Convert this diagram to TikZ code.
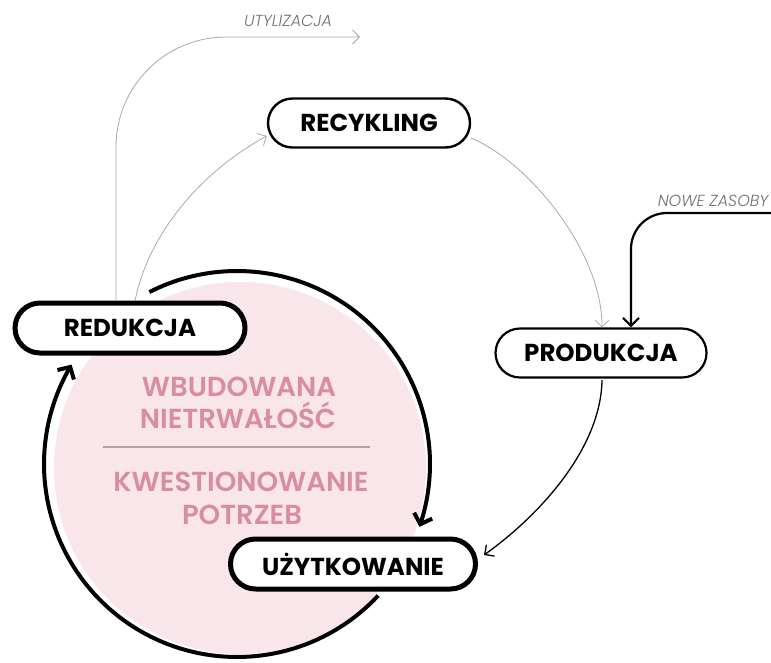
\documentclass[tikz,border=0pt]{standalone}
\usepackage{fontspec}
\setmainfont{Poppins}
\newfontfamily\semibold{Poppins SemiBold}
\newfontfamily\lightit{Poppins Light Italic}
\usetikzlibrary{arrows.meta}

\definecolor{pinkfill}{HTML}{F8E6EB}
\definecolor{pinktext}{HTML}{D98DA3}
\definecolor{rulepink}{HTML}{B89AA2}
\definecolor{thingray}{HTML}{A8A8A8}
\definecolor{labelgray}{HTML}{707070}

\tikzset{
  pill/.style={draw=black, fill=white, text=black, inner sep=0pt,
    font=\bfseries\fontsize{24.5}{24.5}\selectfont},
  heavypill/.style={pill, line width=5pt, minimum height=50pt, rounded corners=25pt},
  lightpill/.style={pill, line width=2.4pt, minimum height=49pt, rounded corners=24.5pt},
  pinklabel/.style={text=pinktext, font=\semibold\fontsize{27.5}{27.5}\selectfont},
  flowlabel/.style={text=labelgray, font=\lightit\fontsize{16}{16}\selectfont},
  grayflow/.style={draw=thingray, line width=0.8pt,
    -{Straight Barb[length=7pt,width=14pt]}},
  blackflow/.style={draw=black, line width=1.3pt,
    -{Straight Barb[length=7pt,width=14pt]}},
  supplyflow/.style={draw=black, line width=2.2pt,
    -{Straight Barb[length=8pt,width=16pt]}},
  loop/.style={draw=black, line width=4pt,
    -{Straight Barb[length=9pt,width=19pt]}},
}

\begin{document}
\begin{tikzpicture}[x=1pt,y=-1pt]
\useasboundingbox (0,0) rectangle (771,662);

% pale disc behind the reduction loop
\fill[pinkfill] (240,468) circle[radius=186];

% texts inside the disc
\node[pinklabel] (wbud) at (239,387) {WBUDOWANA};
\node[pinklabel] (niet) at (238,415) {NIETRWAŁOŚĆ};
\coordinate (ruleL) at (103,447);
\coordinate (ruleR) at (370,447);
\draw[rulepink, line width=1.5pt] (ruleL) -- (ruleR);
\node[pinklabel] (kwes) at (241,482) {KWESTIONOWANIE};
\node[pinklabel] (potr) at (242,515) {POTRZEB};

% reduction loop: two arcs of one circle
\draw[loop] plot[domain=43:211, samples=90] ({237+193*cos(\x)},{464+193*sin(\x)});
\draw[loop] plot[domain=-117:19, samples=90] ({237+193*cos(\x)},{464+193*sin(\x)});

% stages
\node[lightpill, minimum width=202pt] (rec) at (369,123) {RECYKLING};
\node[lightpill, minimum width=211pt, line width=2.2pt] (prod) at (601,353) {PRODUKCJA};
\node[heavypill, minimum width=230pt] (red) at (130,328) {REDUKCJA};
\node[heavypill, minimum width=245pt] (uzyt) at (353,564) {UŻYTKOWANIE};

% disposal
\coordinate (ucorner) at (116,37);
\coordinate (utyl) at (360,37);
\draw[grayflow, rounded corners=110pt] (red.north -| ucorner) -- (ucorner) -- (utyl);
\node[flowlabel] (utyllabel) at (288,21) {UTYLIZACJA};

% reduction to recycling
\coordinate (redout) at (135,301);
\draw[grayflow] (redout) .. controls (149,231) and (204,170) .. (rec.west |- 0,136);

% recycling to production
\coordinate (recout) at (471,138);
\draw[grayflow] (recout) .. controls (527,161) and (602,250) .. (prod.north -| 602,0);

% new resources
\coordinate (zasoby) at (772,213);
\coordinate (zcorner) at (631,213);
\draw[supplyflow, rounded corners=36pt] (zasoby) -- (zcorner) -- (prod.north -| zcorner);
\node[flowlabel, anchor=east] (zaslabel) at (772,201) {NOWE ZASOBY};

% production to use
\coordinate (prodout) at (602,380);
\coordinate (uzin) at (484,555);
\draw[blackflow] (prodout) .. controls (601,448) and (540,515) .. (uzin);
\end{tikzpicture}
\end{document}
